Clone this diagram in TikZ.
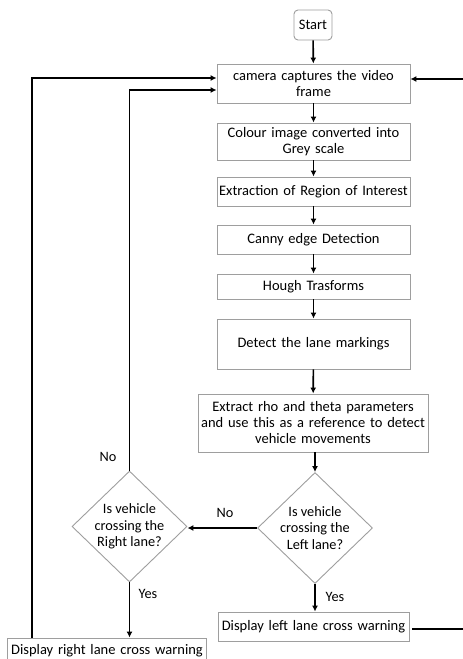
\documentclass[tikz,border=0pt]{standalone}
\usepackage{fontspec}
\setmainfont{Carlito}
\usetikzlibrary{shapes.geometric,arrows.meta}
\tikzset{
  boxst/.style={draw=black!38, line width=0.9pt, fill=white, align=center, inner sep=1pt,
    font=\fontsize{14.5}{16}\selectfont},
  diast/.style={draw=black!38, line width=0.9pt, shape=diamond, align=center, inner sep=-4pt,
    minimum width=115pt, minimum height=111pt, font=\fontsize{14.3}{16.5}\selectfont},
  arr/.style={draw=black, line width=1.6pt, -{Latex[length=6pt,width=6pt]}},
  ln/.style={draw=black, line width=1.6pt},
  lbl/.style={font=\fontsize{14.3}{16}\selectfont, inner sep=0pt}
}
\begin{document}
\begin{tikzpicture}[x=1pt,y=-1pt]
\clip (0,0) rectangle (463,659);
\useasboundingbox (0,0) rectangle (463,659);
\fill[white] (0,0) rectangle (463,659);
% nodes
\node[boxst, rounded corners=4pt, minimum width=38pt, minimum height=30pt] (start) at (313,25) {Start};
\node[boxst, minimum width=193pt, minimum height=39pt, text width=185pt] (cam) at (313.5,83.5) {camera captures the video\\frame};
\node[boxst, minimum width=193pt, minimum height=37pt, text width=185pt] (grey) at (313.5,141.5) {Colour image converted into\\Grey scale};
\node[boxst, minimum width=193pt, minimum height=29pt, text width=191pt] (roi) at (313.5,191.5) {Extraction of Region of Interest};
\node[boxst, minimum width=193pt, minimum height=29pt, text width=185pt] (canny) at (313.5,239.5) {Canny edge Detection};
\node[boxst, minimum width=193pt, minimum height=25pt, text width=185pt] (hough) at (313.5,286.5) {Hough Trasforms};
\node[boxst, minimum width=193pt, minimum height=50pt, text width=185pt] (lane) at (313.5,344) {Detect the lane markings};
\node[boxst, minimum width=230pt, minimum height=58pt, text width=228pt] (extract) at (313,423) {Extract rho and theta parameters\\and use this as a reference to detect\\vehicle movements};
\node[diast] (dleft) at (315,528) {Is vehicle\\crossing the\\Left lane?};
\node[diast] (dright) at (129.5,526.5) {Is vehicle\\crossing the\\Right lane?};
\node[boxst, minimum width=191pt, minimum height=29pt, text width=189pt] (displ) at (313.5,626.5) {Display left lane cross warning};
\node[boxst, minimum width=198pt, minimum height=26pt, text width=197pt] (dispr) at (107,651) {Display right lane cross warning};
% helper coordinates
\coordinate (y78) at (0,78);
\coordinate (y90) at (0,90);
\coordinate (x32) at (32,0);
\coordinate (rin) at (463,79);
\coordinate (rout) at (463,629);
\coordinate (routs) at (412,629);
% connectors
\draw[arr] (start) -- (cam);
\draw[arr] (cam) -- (grey);
\draw[arr] (grey) -- (roi);
\draw[arr] (roi) -- (canny);
\draw[arr] (canny) -- (hough);
\draw[arr] (hough) -- (lane);
\draw[arr] (lane) -- (extract);
\draw[arr] (extract.south -| dleft.north) -- (dleft.north);
\draw[arr] (dleft.south) -- (dleft.south |- displ.north);
\draw[arr] (dleft.west) -- (dright.east |- dleft.west);
\draw[arr] (dright.south) -- (dright.south |- dispr.north);
\draw[arr] (dright.north) |- (cam.west |- y90);
\draw[arr] (dispr.north -| x32) |- (cam.west |- y78);
\draw[arr] (rin) -- (cam.east |- rin);
\draw[ln] (routs) -- (rout);
% labels
\node[lbl] (yes1) at (335,597) {Yes};
\node[lbl] (no1) at (225,513) {No};
\node[lbl] (yes2) at (148,594) {Yes};
\node[lbl] (no2) at (108,457) {No};
\end{tikzpicture}
\end{document}
